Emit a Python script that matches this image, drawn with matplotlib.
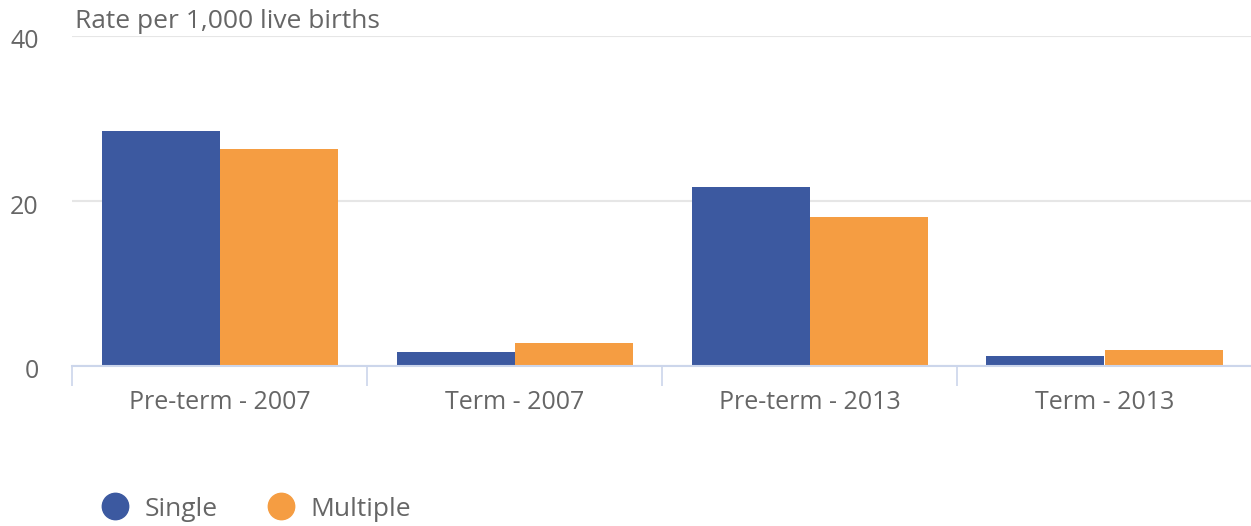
import matplotlib
matplotlib.use("Agg")
import matplotlib.pyplot as plt
import matplotlib.transforms as mtransforms
from matplotlib.lines import Line2D
import numpy as np

categories = ["Pre-term - 2007", "Term - 2007", "Pre-term - 2013", "Term - 2013"]
single = [28.5, 1.7, 21.7, 1.2]
multiple = [26.3, 2.8, 18.1, 2.0]
series_names = ["Single", "Multiple"]
y_ticks = [0, 20, 40]
y_title = "Rate per 1,000 live births"

blue = "#3c59a0"
orange = "#f59d42"
text_col = "#666666"
axis_col = "#ccd6eb"
grid_col = "#e6e6e6"

plt.rcParams['font.family'] = ['Open Sans', 'DejaVu Sans']

W, H = 1251, 526
fig = plt.figure(figsize=(W / 100, H / 100), dpi=100)
ax = fig.add_axes([72 / W, 1 - 366 / H, (1252 - 72) / W, (366 - 36) / H])

x = np.arange(len(categories))
bw = 0.4
ax.bar(x - bw / 2, single, width=bw, color=blue, zorder=3, linewidth=0)
ax.bar(x + bw / 2, multiple, width=bw, color=orange, zorder=3, linewidth=0)

ax.set_xlim(-0.5, len(categories) - 0.5)
ax.set_ylim(0, 40)
ax.set_yticks(y_ticks)
ax.set_yticklabels([str(v) for v in y_ticks])
ax.yaxis.grid(True, color=grid_col, linewidth=1.5, zorder=0)
ax.set_axisbelow(True)

for s in ["top", "right", "left"]:
    ax.spines[s].set_visible(False)
ax.spines["bottom"].set_color(axis_col)
ax.spines["bottom"].set_linewidth(1.5)
ax.spines["bottom"].set_zorder(4)

ax.set_xticks(x)
ax.set_xticklabels(categories)
ax.set_xticks(np.arange(-0.5, len(categories), 1.0), minor=True)
ax.tick_params(axis="x", which="major", length=0, pad=17, labelsize=18, labelcolor=text_col)
ax.tick_params(axis="x", which="minor", length=14.5, width=1.2, color=axis_col, direction="out")
ax.tick_params(axis="y", length=0, pad=24, labelsize=18, labelcolor=text_col)
offset = mtransforms.ScaledTranslation(0, -3 / 100, fig.dpi_scale_trans)
for lab in ax.get_yticklabels():
    lab.set_transform(lab.get_transform() + offset)

fig.text(75 / W, 1 - 21 / H, y_title, color=text_col, fontsize=19, va="center", ha="left")

handles = [Line2D([], [], marker="o", linestyle="none", markersize=19, color=c)
           for c in [blue, orange]]
leg = fig.legend(handles, series_names, loc="center left", bbox_to_anchor=(89 / W, 1 - 509 / H),
                 frameon=False, ncol=2, fontsize=19, handletextpad=0.6, columnspacing=1.9,
                 borderpad=0, handlelength=1.0)
for t in leg.get_texts():
    t.set_color(text_col)

fig.savefig("out.png", dpi=100)
